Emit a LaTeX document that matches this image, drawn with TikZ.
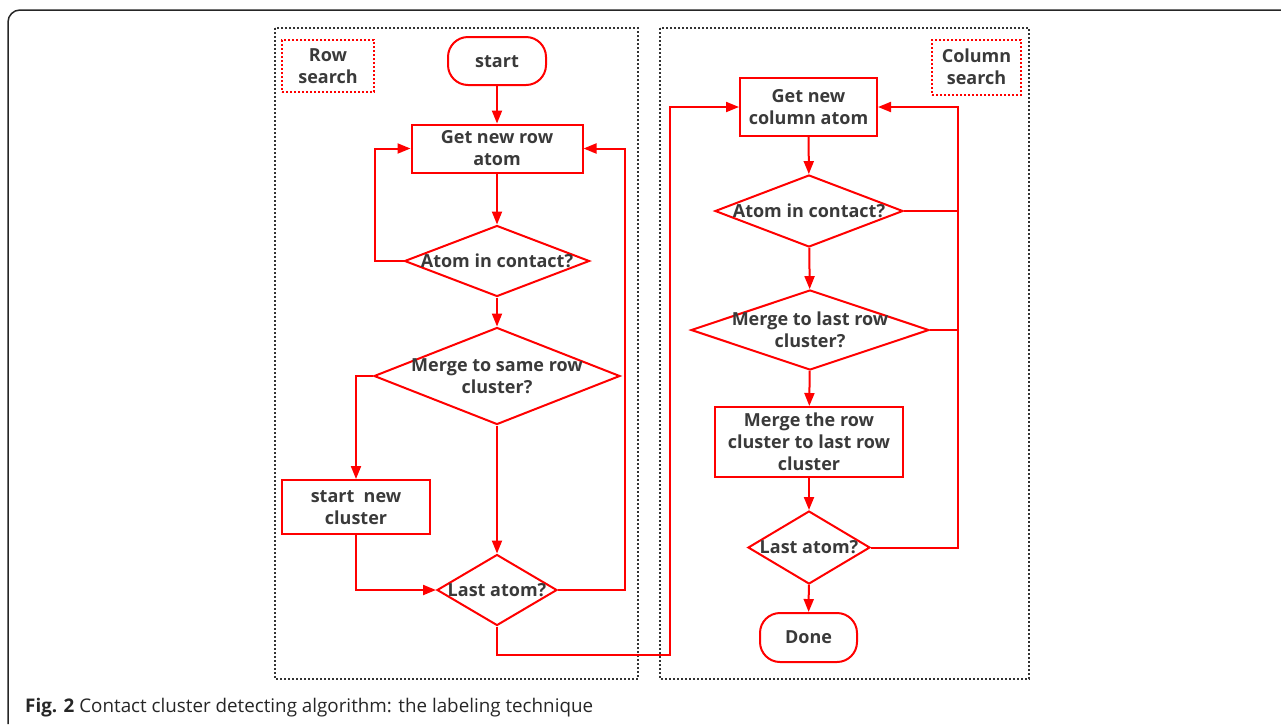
\documentclass[tikz,border=0pt]{standalone}
\usepackage{fontspec}
\setmainfont{Open Sans}
\usetikzlibrary{arrows.meta,shapes.geometric}
\definecolor{fr}{RGB}{255,0,0}
\definecolor{tx}{RGB}{58,58,58}
\newcommand{\ctxt}[1]{\makebox[0pt][c]{\raisebox{0pt}[\dimexpr\height+4pt\relax][\depth]{\begin{tabular}{@{}c@{}}#1\end{tabular}}}}
\begin{document}
\begin{tikzpicture}[x=1pt,y=-1pt,
  flow/.style={draw=fr, line width=2pt, fill=white, inner sep=0pt,
    font=\fontsize{18}{22}\selectfont\bfseries, text=tx},
  box/.style={flow, rectangle},
  term/.style={flow, rectangle, rounded corners=20pt},
  dia/.style={flow, diamond},
  arr/.style={draw=fr, line width=2pt, -{Triangle[length=13pt,width=10pt]}},
  ln/.style={draw=fr, line width=2pt},
  panel/.style={draw=black!80, line width=1.6pt, dash pattern=on 1.6pt off 2.4pt},
  tag/.style={draw=fr, line width=1.6pt, dash pattern=on 1.6pt off 2.4pt,
    inner sep=0pt, font=\fontsize{18}{22}\selectfont\bfseries, text=tx}
]
\useasboundingbox (0,0) rectangle (1281,724);
% outer frame
\draw[line width=1.5pt, black!85, rounded corners=12pt] (8,724) -- (8,10) -- (1281,10);
% panels
\draw[panel] (275,28) rectangle (638,679);
\draw[panel] (660,28) rectangle (1029,679);
\node[tag, minimum width=92, minimum height=52] (rs) at (328,66) {\ctxt{Row\\search}};
\node[tag, minimum width=89, minimum height=55] (cs) at (976.5,67.5) {\ctxt{Column\\search}};
% left column
\node[term, minimum width=98, minimum height=48] (start) at (497,61) {\ctxt{start}};
\node[box, minimum width=171, minimum height=43] (gnr) at (497,148.5) {\ctxt{Get new row\\atom}};
\node[dia, minimum width=185, minimum height=71] (aic) at (497,261) {\ctxt{Atom in contact?}};
\node[dia, minimum width=246, minimum height=97] (msr) at (497,376) {\ctxt{Merge to same row\\cluster?}};
\node[box, minimum width=148, minimum height=54] (snc) at (356,507) {\ctxt{start\ \ new\\cluster}};
\node[dia, minimum width=120, minimum height=71] (la1) at (497,590) {\ctxt{Last atom?}};
% right column
\node[box, minimum width=137, minimum height=58] (gnc) at (808.5,107) {\ctxt{Get new\\column atom}};
\node[dia, minimum width=188, minimum height=72] (aic2) at (809,211) {\ctxt{Atom in contact?}};
\node[dia, minimum width=238, minimum height=80] (mlr) at (810,330) {\ctxt{Merge to last row\\cluster?}};
\node[box, minimum width=188, minimum height=68] (mrc) at (809,442) {\ctxt{Merge the row\\cluster to last row\\cluster}};
\node[dia, minimum width=122, minimum height=73] (la2) at (809,547.5) {\ctxt{Last atom?}};
\node[term, minimum width=97, minimum height=49] (done) at (808.5,637.5) {\ctxt{Done}};
% bus coordinates
\coordinate (lb) at (375,0);
\coordinate (rb) at (625,0);
\coordinate (bb) at (0,655);
\coordinate (mb) at (670,0);
\coordinate (cb) at (958,0);
% left connectors
\draw[arr] (start) -- (gnr);
\draw[arr] (gnr) -- (aic);
\draw[arr] (aic.west) -- (aic.west -| lb) |- (gnr.west);
\draw[arr] (aic) -- (msr);
\draw[arr] (msr.west) -| (snc.north);
\draw[arr] (msr) -- (la1);
\draw[arr] (snc.south) |- (la1.west);
\draw[arr] (la1.east) -- (la1.east -| rb) |- (gnr.east);
\draw[arr] (la1.south) -- (la1.south |- bb) -- (mb |- bb) |- (gnc.west);
% right connectors
\draw[arr] (gnc) -- (aic2);
\draw[arr] (aic2) -- (mlr);
\draw[arr] (mlr) -- (mrc);
\draw[arr] (mrc) -- (la2);
\draw[arr] (la2) -- (done);
\draw[ln] (aic2.east) -- (aic2.east -| cb);
\draw[ln] (mlr.east) -- (mlr.east -| cb);
\draw[arr] (la2.east) -- (la2.east -| cb) |- (gnc.east);
% caption
\node[anchor=base west, inner sep=0pt, font=\fontsize{18.8}{22}\selectfont, text=black!85] (cap) at (25,712)
  {\textbf{Fig. 2} Contact cluster detecting algorithm: the labeling technique};
\end{tikzpicture}
\end{document}
